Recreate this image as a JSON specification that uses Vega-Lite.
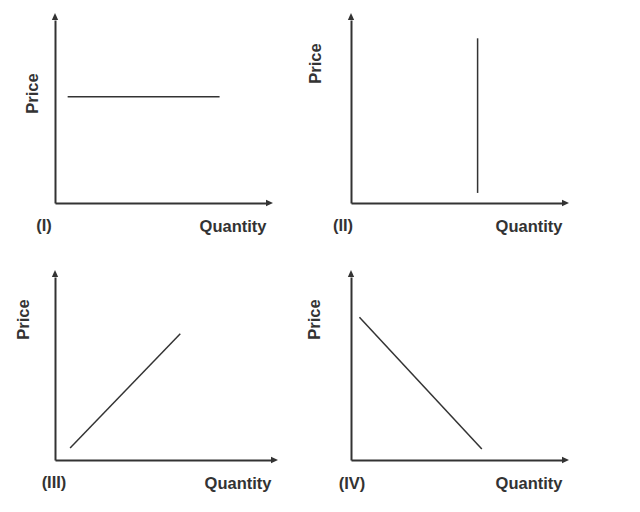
{
  "$schema": "https://vega.github.io/schema/vega-lite/v6.json",
  "background": "white",
  "padding": {"left": 15, "top": 13, "right": 0, "bottom": 0},
  "bounds": "flush",
  "spacing": 257,
  "config": {
    "view": {"stroke": null},
    "axis": {
      "domainColor": "#333333", "domainWidth": 2, "ticks": false, "labels": false, "grid": false,
      "titleFont": "Liberation Sans", "titleFontSize": 16.5, "titleFontWeight": "bold", "titleColor": "#333333"
    },
    "axisX": {"titleAnchor": "end", "titleAlign": "right", "titleBaseline": "alphabetic", "titlePadding": 28},
    "axisY": {"titleAngle": -90, "titleAlign": "center", "titleBaseline": "middle"},
    "text": {"font": "Liberation Sans", "fontSize": 16.5, "fontWeight": "bold", "color": "#333333", "align": "center", "baseline": "alphabetic"}
  },
  "vconcat": [
    {
      "bounds": "flush",
      "spacing": 85,
      "hconcat": [
        {
          "width": 211, "height": 183,
          "layer": [
            {
              "data": {"values": [{"q": 0.6, "p": 5.8}, {"q": 7.8, "p": 5.8}]},
              "mark": {"type": "line", "color": "#333333", "strokeWidth": 1.5},
              "encoding": {
                "x": {"field": "q", "type": "quantitative", "scale": {"domain": [0, 10]}, "axis": {"title": "Quantity"}},
                "y": {"field": "p", "type": "quantitative", "scale": {"domain": [0, 10]}, "axis": {"title": "Price", "titleX": -23, "titleY": 73}}
              }
            },
            {
              "data": {"values": [{}]},
              "mark": {"type": "point", "shape": "M0,-2L-0.9,0L0.9,0Z", "filled": true, "color": "#333333", "size": 49, "opacity": 1},
              "encoding": {"x": {"datum": 0}, "y": {"datum": 10}}
            },
            {
              "data": {"values": [{}]},
              "mark": {"type": "point", "shape": "M2,0L0,-0.9L0,0.9Z", "filled": true, "color": "#333333", "size": 49, "opacity": 1},
              "encoding": {"x": {"datum": 10}, "y": {"datum": 0}}
            },
            {
              "data": {"values": [{}]},
              "mark": {"type": "text", "text": "(I)", "dx": -11, "dy": 28},
              "encoding": {"x": {"datum": 0}, "y": {"datum": 0}}
            }
          ]
        },
        {
          "width": 211, "height": 183,
          "layer": [
            {
              "data": {"values": [{"q": 6.0, "p": 0.55}, {"q": 6.0, "p": 9.0}]},
              "mark": {"type": "line", "color": "#333333", "strokeWidth": 1.5},
              "encoding": {
                "x": {"field": "q", "type": "quantitative", "scale": {"domain": [0, 10]}, "axis": {"title": "Quantity"}},
                "y": {"field": "p", "type": "quantitative", "scale": {"domain": [0, 10]}, "axis": {"title": "Price", "titleX": -36, "titleY": 43}}
              }
            },
            {
              "data": {"values": [{}]},
              "mark": {"type": "point", "shape": "M0,-2L-0.9,0L0.9,0Z", "filled": true, "color": "#333333", "size": 49, "opacity": 1},
              "encoding": {"x": {"datum": 0}, "y": {"datum": 10}}
            },
            {
              "data": {"values": [{}]},
              "mark": {"type": "point", "shape": "M2,0L0,-0.9L0,0.9Z", "filled": true, "color": "#333333", "size": 49, "opacity": 1},
              "encoding": {"x": {"datum": 10}, "y": {"datum": 0}}
            },
            {
              "data": {"values": [{}]},
              "mark": {"type": "text", "text": "(II)", "dx": -8, "dy": 28},
              "encoding": {"x": {"datum": 0}, "y": {"datum": 0}}
            }
          ]
        }
      ]
    },
    {
      "bounds": "flush",
      "spacing": 80,
      "hconcat": [
        {
          "width": 216, "height": 183,
          "layer": [
            {
              "data": {"values": [{"q": 0.7, "p": 0.66}, {"q": 5.8, "p": 6.9}]},
              "mark": {"type": "line", "color": "#333333", "strokeWidth": 1.5},
              "encoding": {
                "x": {"field": "q", "type": "quantitative", "scale": {"domain": [0, 10]}, "axis": {"title": "Quantity"}},
                "y": {"field": "p", "type": "quantitative", "scale": {"domain": [0, 10]}, "axis": {"title": "Price", "titleX": -32, "titleY": 42}}
              }
            },
            {
              "data": {"values": [{}]},
              "mark": {"type": "point", "shape": "M0,-2L-0.9,0L0.9,0Z", "filled": true, "color": "#333333", "size": 49, "opacity": 1},
              "encoding": {"x": {"datum": 0}, "y": {"datum": 10}}
            },
            {
              "data": {"values": [{}]},
              "mark": {"type": "point", "shape": "M2,0L0,-0.9L0,0.9Z", "filled": true, "color": "#333333", "size": 49, "opacity": 1},
              "encoding": {"x": {"datum": 10}, "y": {"datum": 0}}
            },
            {
              "data": {"values": [{}]},
              "mark": {"type": "text", "text": "(III)", "dx": -1, "dy": 28},
              "encoding": {"x": {"datum": 0}, "y": {"datum": 0}}
            }
          ]
        },
        {
          "width": 211, "height": 183,
          "layer": [
            {
              "data": {"values": [{"q": 0.4, "p": 7.8}, {"q": 6.2, "p": 0.6}]},
              "mark": {"type": "line", "color": "#333333", "strokeWidth": 1.5},
              "encoding": {
                "x": {"field": "q", "type": "quantitative", "scale": {"domain": [0, 10]}, "axis": {"title": "Quantity"}},
                "y": {"field": "p", "type": "quantitative", "scale": {"domain": [0, 10]}, "axis": {"title": "Price", "titleX": -37, "titleY": 42}}
              }
            },
            {
              "data": {"values": [{}]},
              "mark": {"type": "point", "shape": "M0,-2L-0.9,0L0.9,0Z", "filled": true, "color": "#333333", "size": 49, "opacity": 1},
              "encoding": {"x": {"datum": 0}, "y": {"datum": 10}}
            },
            {
              "data": {"values": [{}]},
              "mark": {"type": "point", "shape": "M2,0L0,-0.9L0,0.9Z", "filled": true, "color": "#333333", "size": 49, "opacity": 1},
              "encoding": {"x": {"datum": 10}, "y": {"datum": 0}}
            },
            {
              "data": {"values": [{}]},
              "mark": {"type": "text", "text": "(IV)", "dx": 1, "dy": 29},
              "encoding": {"x": {"datum": 0}, "y": {"datum": 0}}
            }
          ]
        }
      ]
    }
  ]
}
